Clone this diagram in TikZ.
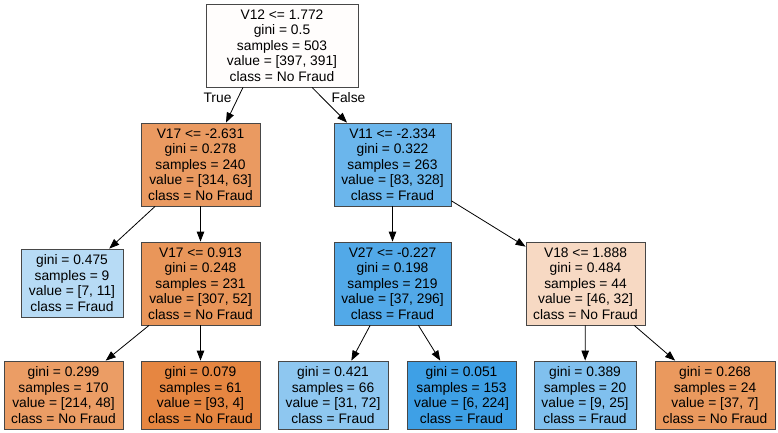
\documentclass[tikz,border=0pt]{standalone}
\usepackage{fontspec}
\setmainfont{Liberation Sans}
\usetikzlibrary{arrows.meta}

% node fill colours (class 0 = orange, class 1 = blue, shaded by purity)
\definecolor{cRoot}{RGB}{255,253,252}
\definecolor{cA}{RGB}{234,154,97}
\definecolor{cB}{RGB}{107,182,236}
\definecolor{cC}{RGB}{183,219,245}
\definecolor{cD}{RGB}{233,150,90}
\definecolor{cE}{RGB}{82,169,232}
\definecolor{cF}{RGB}{247,217,195}
\definecolor{cG}{RGB}{235,157,101}
\definecolor{cH}{RGB}{230,134,65}
\definecolor{cI}{RGB}{142,199,240}
\definecolor{cJ}{RGB}{62,160,230}
\definecolor{cK}{RGB}{128,192,238}
\definecolor{cL}{RGB}{234,153,94}

\tikzset{
  treenode/.style={draw=black!72, line width=0.8pt, rectangle, align=center,
    inner sep=0pt, font=\fontsize{13.8}{15.6}\selectfont},
  split/.style={treenode, minimum height=83pt},
  leaf/.style={treenode, minimum height=68pt},
  edge/.style={line width=0.8pt, -{Triangle[length=10pt,width=7.5pt]}},
  edgelabel/.style={font=\fontsize{13.8}{15.6}\selectfont, inner sep=0pt}
}

\begin{document}
\begin{tikzpicture}[x=1pt,y=-1pt]
\useasboundingbox (0,0) rectangle (778,433);

% level 0
\node[split, fill=cRoot, minimum width=152pt] (n0) at (282,45.5)
  {V12 <= 1.772\\gini = 0.5\\samples = 503\\value = [397, 391]\\class = No Fraud};

% level 1
\node[split, fill=cA, minimum width=119pt] (n1) at (200.5,164.5)
  {V17 <= -2.631\\gini = 0.278\\samples = 240\\value = [314, 63]\\class = No Fraud};
\node[split, fill=cB, minimum width=117pt] (n2) at (392.5,164.5)
  {V11 <= -2.334\\gini = 0.322\\samples = 263\\value = [83, 328]\\class = Fraud};

% level 2
\node[leaf, fill=cC, minimum width=102pt] (n3) at (72,283)
  {gini = 0.475\\samples = 9\\value = [7, 11]\\class = Fraud};
\node[split, fill=cD, minimum width=119pt] (n4) at (200.5,283.5)
  {V17 <= 0.913\\gini = 0.248\\samples = 231\\value = [307, 52]\\class = No Fraud};
\node[split, fill=cE, minimum width=117pt] (n5) at (392.5,283.5)
  {V27 <= -0.227\\gini = 0.198\\samples = 219\\value = [37, 296]\\class = Fraud};
\node[split, fill=cF, minimum width=119pt] (n6) at (585.5,283.5)
  {V18 <= 1.888\\gini = 0.484\\samples = 44\\value = [46, 32]\\class = No Fraud};

% level 3
\node[leaf, fill=cG, minimum width=119pt] (n7) at (63.5,395)
  {gini = 0.299\\samples = 170\\value = [214, 48]\\class = No Fraud};
\node[leaf, fill=cH, minimum width=119pt] (n8) at (200.5,395)
  {gini = 0.079\\samples = 61\\value = [93, 4]\\class = No Fraud};
\node[leaf, fill=cI, minimum width=110pt] (n9) at (333,395)
  {gini = 0.421\\samples = 66\\value = [31, 72]\\class = Fraud};
\node[leaf, fill=cJ, minimum width=109pt] (n10) at (461.5,395)
  {gini = 0.051\\samples = 153\\value = [6, 224]\\class = Fraud};
\node[leaf, fill=cK, minimum width=102pt] (n11) at (585,395)
  {gini = 0.389\\samples = 20\\value = [9, 25]\\class = Fraud};
\node[leaf, fill=cL, minimum width=120pt] (n12) at (715,395)
  {gini = 0.268\\samples = 24\\value = [37, 7]\\class = No Fraud};

% edges (the two labelled root edges leave from fixed points on the root box)
\draw[edge] ([xshift=-39pt]n0.south) -- ([xshift=25.5pt]n1.north);
\draw[edge] ([xshift=30pt]n0.south) -- ([xshift=-45.5pt]n2.north);
\draw[edge] (n1) -- (n3);
\draw[edge] (n1) -- (n4);
\draw[edge] (n2) -- (n5);
\draw[edge] (n2) -- (n6);
\draw[edge] (n4) -- (n7);
\draw[edge] (n4) -- (n8);
\draw[edge] (n5) -- (n9);
\draw[edge] (n5) -- (n10);
\draw[edge] (n6) -- (n11);
\draw[edge] (n6) -- (n12);

% branch labels
\node[edgelabel] (tl) at (217.5,97.5) {True};
\node[edgelabel] (fl) at (348.5,97.5) {False};
\end{tikzpicture}
\end{document}
